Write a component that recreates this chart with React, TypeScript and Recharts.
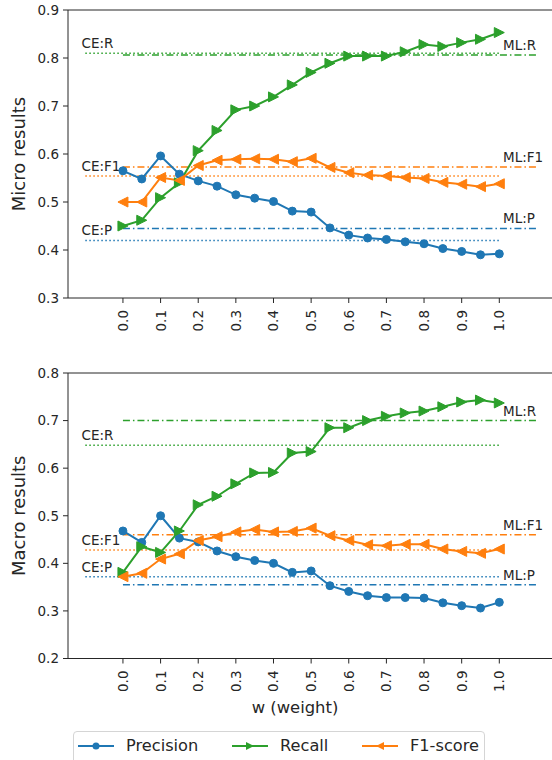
import React from "react";
import {
  LineChart,
  Line,
  XAxis,
  YAxis,
  ReferenceLine,
  ReferenceDot,
} from "recharts";

// x positions (weight w)
const weights = [
  0.0, 0.05, 0.1, 0.15, 0.2, 0.25, 0.3, 0.35, 0.4, 0.45, 0.5, 0.55, 0.6, 0.65,
  0.7, 0.75, 0.8, 0.85, 0.9, 0.95, 1.0,
];
const xTicks = [0.0, 0.1, 0.2, 0.3, 0.4, 0.5, 0.6, 0.7, 0.8, 0.9, 1.0];

// micro results
const microPrecision = [
  0.565, 0.548, 0.596, 0.558, 0.544, 0.533, 0.515, 0.508, 0.501, 0.481, 0.479,
  0.446, 0.431, 0.425, 0.422, 0.417, 0.413, 0.403, 0.397, 0.39, 0.392,
];
const microRecall = [
  0.45, 0.462, 0.509, 0.54, 0.607, 0.649, 0.692, 0.7, 0.719, 0.744, 0.77,
  0.789, 0.804, 0.804, 0.804, 0.813, 0.828, 0.824, 0.832, 0.839, 0.853,
];
const microF1 = [
  0.5, 0.5, 0.551, 0.545, 0.576, 0.587, 0.589, 0.59, 0.589, 0.584, 0.591,
  0.572, 0.561, 0.556, 0.554, 0.551, 0.549, 0.541, 0.537, 0.532, 0.538,
];
const microTicks = [0.3, 0.4, 0.5, 0.6, 0.7, 0.8, 0.9];

// macro results
const macroPrecision = [
  0.468, 0.444, 0.5, 0.453, 0.445, 0.426, 0.414, 0.406, 0.4, 0.381, 0.384,
  0.353, 0.341, 0.332, 0.328, 0.328, 0.327, 0.317, 0.311, 0.306, 0.318,
];
const macroRecall = [
  0.381, 0.435, 0.423, 0.468, 0.523, 0.541, 0.567, 0.59, 0.591, 0.632, 0.635,
  0.685, 0.685, 0.7, 0.709, 0.716, 0.72, 0.729, 0.739, 0.743, 0.737,
];
const macroF1 = [
  0.372, 0.379, 0.409, 0.42, 0.448, 0.456, 0.466, 0.471, 0.466, 0.467, 0.474,
  0.458, 0.448, 0.439, 0.437, 0.44, 0.44, 0.43, 0.425, 0.421, 0.43,
];
const macroTicks = [0.2, 0.3, 0.4, 0.5, 0.6, 0.7, 0.8];

// baselines: [R, F1, P]
const baselineKeys = ["R", "F1", "P"];
const microCE = [0.81, 0.554, 0.42];
const microML = [0.806, 0.573, 0.445];
const macroCE = [0.648, 0.428, 0.372];
const macroML = [0.7, 0.46, 0.355];
const ceSpan = [-0.1, 1.0];
const mlSpan = [0.0, 1.1];

const BLUE = "#1f77b4";
const GREEN = "#2ca02c";
const ORANGE = "#ff7f0e";
const baseColors = [GREEN, ORANGE, BLUE];
const FONT = "DejaVu Sans, Verdana, sans-serif";
const AXIS = "#262626";

const X_DOMAIN: [number, number] = [-0.146, 1.14];

const build = (p: number[], r: number[], f: number[]) =>
  weights.map((w, i) => ({ w, precision: p[i], recall: r[i], f1: f[i] }));

const CircleDot = (props: any) => {
  const { cx, cy } = props;
  if (cx == null || cy == null) return null;
  return <circle cx={cx} cy={cy} r={4} fill={BLUE} stroke={BLUE} />;
};

const triPath = (cx: number, cy: number, s: number, right: boolean) =>
  right
    ? `M${cx + s},${cy} L${cx - s},${cy - s} L${cx - s},${cy + s} Z`
    : `M${cx - s},${cy} L${cx + s},${cy - s} L${cx + s},${cy + s} Z`;

const RightTri = (props: any) => {
  const { cx, cy } = props;
  if (cx == null || cy == null) return null;
  return <path d={triPath(cx, cy, 5, true)} fill={GREEN} stroke={GREEN} />;
};

const LeftTri = (props: any) => {
  const { cx, cy } = props;
  if (cx == null || cy == null) return null;
  return <path d={triPath(cx, cy, 5, false)} fill={ORANGE} stroke={ORANGE} />;
};

const RotTick = (props: any) => {
  const { x, y, payload } = props;
  return (
    <text
      x={x}
      y={y}
      transform={`rotate(-90 ${x} ${y})`}
      textAnchor="end"
      dominantBaseline="central"
      fontSize={13.5}
      fontFamily={FONT}
      fill={AXIS}
    >
      {Number(payload.value).toFixed(1)}
    </text>
  );
};

const tagLabel = (text: string) => (p: any) => {
  const vb = p.viewBox || {};
  return (
    <text
      x={vb.x}
      y={vb.y - 10}
      dominantBaseline="central"
      fontSize={13.5}
      fontFamily={FONT}
      fill={AXIS}
    >
      {text}
    </text>
  );
};

type PanelProps = {
  data: any[];
  yDomain: [number, number];
  yTicks: number[];
  ylabel: string;
  ce: number[];
  ml: number[];
  height: number;
  top: number;
  xAxisHeight: number;
};

function Panel({ data, yDomain, yTicks, ylabel, ce, ml, height, top, xAxisHeight }: PanelProps) {
  return (
    <LineChart
      width={552}
      height={height}
      data={data}
      margin={{ top, right: 0, left: 0, bottom: 0 }}
    >
      <XAxis
        dataKey="w"
        type="number"
        domain={X_DOMAIN}
        ticks={xTicks}
        interval={0}
        allowDataOverflow
        height={xAxisHeight}
        tickSize={5}
        tickMargin={7}
        tick={<RotTick />}
        stroke={AXIS}
      />
      <YAxis
        type="number"
        domain={yDomain}
        ticks={yTicks}
        allowDataOverflow
        width={68}
        tickSize={5}
        tickMargin={4}
        stroke={AXIS}
        tick={{ fontSize: 13.5, fontFamily: FONT, fill: AXIS }}
        tickFormatter={(v: number) => v.toFixed(1)}
        label={{
          content: (p: any) => {
            const vb = p.viewBox || {};
            const cy = vb.y + vb.height / 2;
            return (
              <text
                x={18}
                y={cy}
                transform={`rotate(-90 18 ${cy})`}
                textAnchor="middle"
                dominantBaseline="central"
                fontSize={18}
                fontFamily={FONT}
                fill={AXIS}
              >
                {ylabel}
              </text>
            );
          },
        }}
      />
      <ReferenceLine y={yDomain[1]} stroke={AXIS} strokeWidth={1} ifOverflow="visible" />
      {baselineKeys.map((k, i) => (
        <ReferenceLine
          key={`ce-${k}`}
          segment={[
            { x: ceSpan[0], y: ce[i] },
            { x: ceSpan[1], y: ce[i] },
          ]}
          stroke={baseColors[i]}
          strokeWidth={1.5}
          strokeDasharray="1.5 2.5"
        />
      ))}
      {baselineKeys.map((k, i) => (
        <ReferenceLine
          key={`ml-${k}`}
          segment={[
            { x: mlSpan[0], y: ml[i] },
            { x: mlSpan[1], y: ml[i] },
          ]}
          stroke={baseColors[i]}
          strokeWidth={1.5}
          strokeDasharray="7 3 1.5 3"
        />
      ))}
      {baselineKeys.map((k, i) => (
        <ReferenceDot
          key={`cel-${k}`}
          x={-0.11}
          y={ce[i]}
          r={0}
          fill="none"
          stroke="none"
          label={{ content: tagLabel(`CE:${k}`) }}
        />
      ))}
      {baselineKeys.map((k, i) => (
        <ReferenceDot
          key={`mll-${k}`}
          x={1.01}
          y={ml[i]}
          r={0}
          fill="none"
          stroke="none"
          label={{ content: tagLabel(`ML:${k}`) }}
        />
      ))}
      <Line
        dataKey="precision"
        stroke={BLUE}
        strokeWidth={2}
        dot={<CircleDot />}
        activeDot={false}
        isAnimationActive={false}
      />
      <Line
        dataKey="recall"
        stroke={GREEN}
        strokeWidth={2}
        dot={<RightTri />}
        activeDot={false}
        isAnimationActive={false}
      />
      <Line
        dataKey="f1"
        stroke={ORANGE}
        strokeWidth={2}
        dot={<LeftTri />}
        activeDot={false}
        isAnimationActive={false}
      />
    </LineChart>
  );
}

const legendItems = [
  { name: "Precision", color: BLUE, marker: "circle" },
  { name: "Recall", color: GREEN, marker: "right" },
  { name: "F1-score", color: ORANGE, marker: "left" },
];

function LegendMarker({ color, marker }: { color: string; marker: string }) {
  return (
    <svg width={36} height={14} style={{ display: "block" }}>
      <line x1={0} y1={7} x2={36} y2={7} stroke={color} strokeWidth={2} />
      {marker === "circle" ? (
        <circle cx={18} cy={7} r={3.5} fill={color} />
      ) : (
        <path d={triPath(18, 7, 4, marker === "right")} fill={color} />
      )}
    </svg>
  );
}

export default function App() {
  const micro = build(microPrecision, microRecall, microF1);
  const macro = build(macroPrecision, macroRecall, macroF1);
  return (
    <div
      style={{
        position: "absolute",
        left: 0,
        top: 0,
        width: 552,
        height: 760,
        overflow: "hidden",
        background: "#fff",
        fontFamily: FONT,
      }}
    >
      <div style={{ position: "absolute", left: 0, top: 0 }}>
        <Panel
          data={micro}
          yDomain={[0.3, 0.9]}
          yTicks={microTicks}
          ylabel="Micro results"
          ce={microCE}
          ml={microML}
          height={340}
          top={10}
          xAxisHeight={42}
        />
      </div>
      <div style={{ position: "absolute", left: 0, top: 340 }}>
        <Panel
          data={macro}
          yDomain={[0.2, 0.8]}
          yTicks={macroTicks}
          ylabel="Macro results"
          ce={macroCE}
          ml={macroML}
          height={360}
          top={33}
          xAxisHeight={41.5}
        />
      </div>
      <div
        style={{
          position: "absolute",
          left: 215,
          top: 698,
          width: 160,
          textAlign: "center",
          fontSize: 16.4,
          color: AXIS,
          lineHeight: "20px",
        }}
      >
        w (weight)
      </div>
      <div
        style={{
          position: "absolute",
          left: 73,
          top: 731,
          width: 412,
          height: 40,
          border: "1px solid #d5d5d5",
          borderRadius: 4,
          boxSizing: "border-box",
        }}
      >
        {legendItems.map((it, i) => (
          <div
            key={it.name}
            style={{
              position: "absolute",
              left: [4, 158, 288][i],
              top: 4,
              display: "flex",
              alignItems: "center",
              gap: 12,
              fontSize: 16.2,
              color: AXIS,
              lineHeight: "20px",
            }}
          >
            <LegendMarker color={it.color} marker={it.marker} />
            <span>{it.name}</span>
          </div>
        ))}
      </div>
    </div>
  );
}
